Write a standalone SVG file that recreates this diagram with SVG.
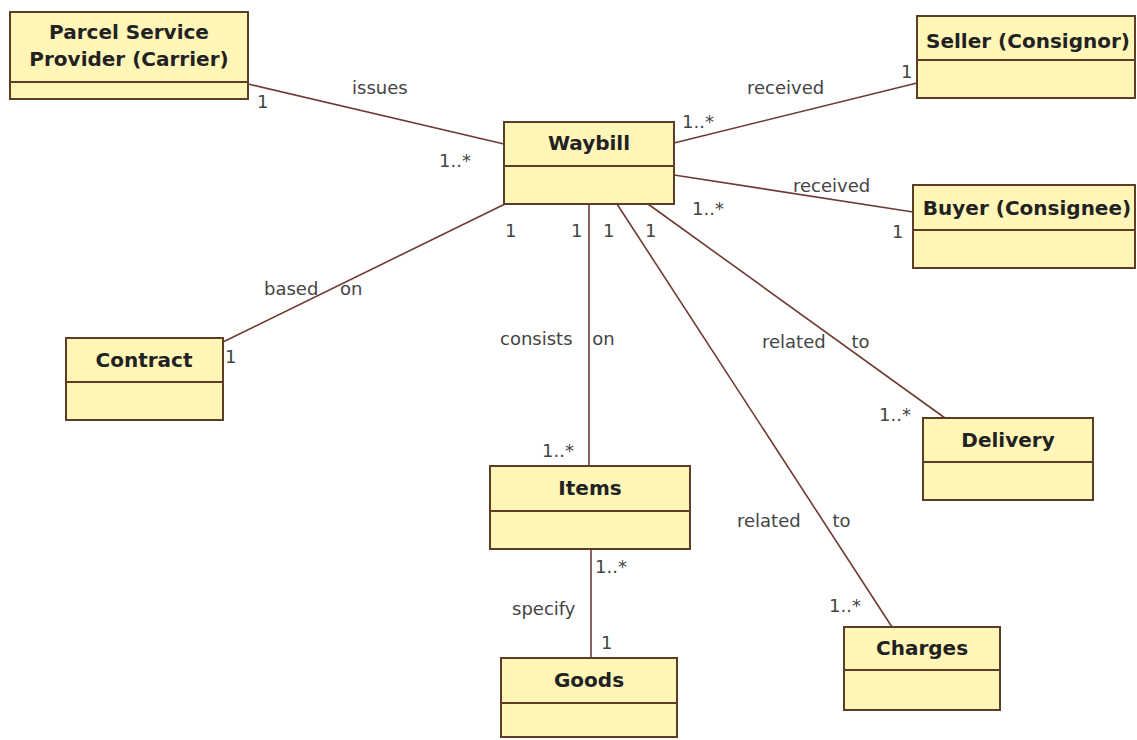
<svg xmlns="http://www.w3.org/2000/svg" width="1137" height="740" viewBox="0 0 1137 740">
  <style>
    .box { fill: #fff6b8; stroke: #5e3d26; stroke-width: 2; }
    .div { stroke: #5e3d26; stroke-width: 2; }
    .title { font-family: "DejaVu Sans", Verdana, sans-serif; font-weight: bold; font-size: 20px; fill: #222; text-anchor: middle; }
    .lbl { font-family: "DejaVu Sans", Verdana, sans-serif; font-size: 18px; fill: #444; }
    .assoc { stroke: #6e3b33; stroke-width: 1.6; fill: none; }
  </style>
  <rect width="1137" height="740" fill="#ffffff"/>

  <!-- associations -->
  <g id="connectors">
    <line class="assoc" x1="248" y1="84" x2="504" y2="144"/>
    <line class="assoc" x1="674" y1="143" x2="917" y2="83"/>
    <line class="assoc" x1="674" y1="175" x2="913" y2="212"/>
    <line class="assoc" x1="223" y1="342" x2="505" y2="204"/>
    <line class="assoc" x1="589" y1="204" x2="589" y2="466"/>
    <line class="assoc" x1="591" y1="549" x2="591" y2="658"/>
    <line class="assoc" x1="617" y1="204" x2="892" y2="627"/>
    <line class="assoc" x1="648" y1="204" x2="945" y2="418"/>
  </g>

  <!-- association labels and multiplicities -->
  <g id="labels">
    <text class="lbl" x="257" y="108">1</text>
    <text class="lbl" x="352" y="94">issues</text>
    <text class="lbl" x="439" y="167">1..*</text>

    <text class="lbl" x="747" y="94">received</text>
    <text class="lbl" x="682" y="128">1..*</text>
    <text class="lbl" x="901" y="78">1</text>

    <text class="lbl" x="793" y="192">received</text>
    <text class="lbl" x="692" y="215">1..*</text>
    <text class="lbl" x="892" y="238">1</text>

    <text class="lbl" x="505" y="237">1</text>
    <text class="lbl" x="264" y="295" word-spacing="16">based on</text>
    <text class="lbl" x="225" y="363">1</text>

    <text class="lbl" x="571" y="237">1</text>
    <text class="lbl" x="603" y="237">1</text>
    <text class="lbl" x="645" y="237">1</text>

    <text class="lbl" x="500" y="345" word-spacing="14">consists on</text>
    <text class="lbl" x="542" y="457">1..*</text>

    <text class="lbl" x="762" y="348" word-spacing="20">related to</text>
    <text class="lbl" x="879" y="421">1..*</text>

    <text class="lbl" x="737" y="527" word-spacing="26">related to</text>
    <text class="lbl" x="829" y="612">1..*</text>

    <text class="lbl" x="595" y="573">1..*</text>
    <text class="lbl" x="512" y="615">specify</text>
    <text class="lbl" x="601" y="649">1</text>
  </g>

  <!-- classes -->
  <g id="carrier">
    <rect class="box" x="10" y="12" width="238" height="87"/>
    <line class="div" x1="10" y1="82" x2="248" y2="82"/>
    <text class="title" x="129" y="39">Parcel Service</text>
    <text class="title" x="129" y="66">Provider (Carrier)</text>
  </g>

  <g id="waybill">
    <rect class="box" x="504" y="122" width="170" height="82"/>
    <line class="div" x1="504" y1="166" x2="674" y2="166"/>
    <text class="title" x="589" y="150">Waybill</text>
  </g>

  <g id="seller">
    <rect class="box" x="917" y="16" width="218" height="82"/>
    <line class="div" x1="917" y1="60" x2="1135" y2="60"/>
    <text class="title" x="1028" y="48">Seller (Consignor)</text>
  </g>

  <g id="buyer">
    <rect class="box" x="913" y="185" width="222" height="83"/>
    <line class="div" x1="913" y1="230" x2="1135" y2="230"/>
    <text class="title" x="1027" y="215">Buyer (Consignee)</text>
  </g>

  <g id="contract">
    <rect class="box" x="66" y="338" width="157" height="82"/>
    <line class="div" x1="66" y1="382" x2="223" y2="382"/>
    <text class="title" x="144" y="367">Contract</text>
  </g>

  <g id="items">
    <rect class="box" x="490" y="466" width="200" height="83"/>
    <line class="div" x1="490" y1="511" x2="690" y2="511"/>
    <text class="title" x="590" y="495">Items</text>
  </g>

  <g id="goods">
    <rect class="box" x="501" y="658" width="176" height="79"/>
    <line class="div" x1="501" y1="703" x2="677" y2="703"/>
    <text class="title" x="589" y="687">Goods</text>
  </g>

  <g id="charges">
    <rect class="box" x="844" y="627" width="156" height="83"/>
    <line class="div" x1="844" y1="670" x2="1000" y2="670"/>
    <text class="title" x="922" y="655">Charges</text>
  </g>

  <g id="delivery">
    <rect class="box" x="923" y="418" width="170" height="82"/>
    <line class="div" x1="923" y1="462" x2="1093" y2="462"/>
    <text class="title" x="1008" y="447">Delivery</text>
  </g>
</svg>
